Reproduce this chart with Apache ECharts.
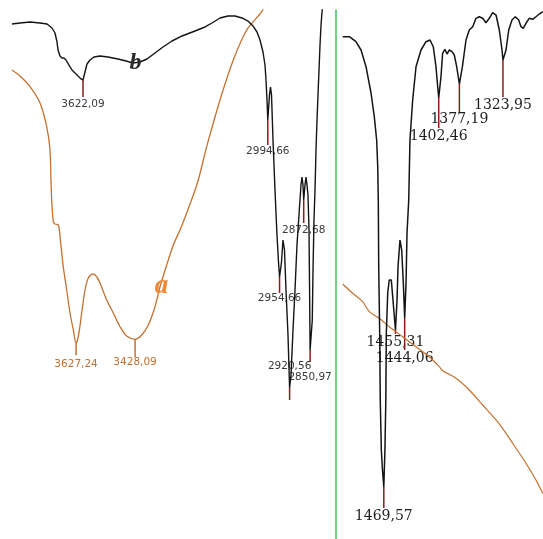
<!DOCTYPE html>
<html>
<head>
<meta charset="utf-8">
<script src="https://cdn.jsdelivr.net/npm/echarts@6/dist/echarts.min.js"></script>
<style>
  html, body { margin: 0; padding: 0; background: #fff; }
  #chart { width: 543px; height: 539px; }
</style>
</head>
<body>
<div id="chart"></div>
<script>
// ---- Spectrum b (black), high-wavenumber region, cm-1 / transmittance ----
const bWave = [3863.3,3836.1,3802.1,3768.2,3744.4,3727.4,3717.2,3710.4,3707.0,3700.3,
  3693.5,3686.7,3679.9,3669.7,3659.5,3649.3,3639.1,3628.9,3622.09,3615.4,
  3608.6,3598.4,3584.8,3564.4,3537.3,3503.3,3476.1,3452.4,3428.6,3404.8,
  3377.7,3350.5,3319.9,3285.9,3241.8,3207.9,3184.1,3157.0,3129.8,3106.0,
  3082.2,3061.8,3044.9,3031.3,3021.1,3010.9,3004.1,3000.7,2997.3,2994.66,
  2988.8,2985.4,2982.0,2976.9,2970.2,2963.4,2958.3,2954.66,2948.1,2943.0,
  2937.9,2932.8,2926.0,2920.56,2915.8,2909.0,2902.2,2895.5,2888.7,2881.9,
  2878.5,2875.1,2872.68,2868.3,2864.9,2861.5,2858.1,2854.7,2852.7,2850.97,
  2843.5,2841.1,2837.7,2834.3,2830.9,2827.5,2824.1,2820.7,2817.3,2813.9,
  2810.5,2807.0];
const bT = [97.35,97.54,97.73,97.54,97.35,96.60,95.65,93.95,92.44,91.30,
  90.93,90.93,90.55,89.60,88.66,88.09,87.52,86.96,86.77,88.28,
  89.79,90.55,91.12,91.30,91.12,90.74,90.36,89.98,90.17,90.74,
  91.87,93.01,94.14,95.09,96.03,96.79,97.54,98.49,98.87,98.87,
  98.49,97.92,96.98,95.84,94.33,92.06,89.60,86.77,82.99,79.21,
  83.93,85.44,83.93,75.43,65.97,57.47,52.36,49.53,52.36,56.52,
  54.63,47.07,38.56,28.54,31.00,39.51,47.07,55.58,61.25,66.92,
  68.43,66.92,64.08,66.92,68.43,66.92,65.03,58.41,47.07,35.73,
  41.40,50.85,60.30,65.97,73.53,79.21,83.93,88.66,93.38,97.16,
  99.62,101.5];

// ---- Spectrum a (orange), high-wavenumber region ----
const aWave = [3843.5,3816.5,3782.75,3749,3726.4,3715.25,3711.9,3709.5,3704.1,3698.4,
  3687.2,3681.5,3670.4,3658.9,3647.75,3636.6,3627.24,3619.7,3608.3,3597.1,
  3586.0,3571.1,3557.6,3546.5,3523.9,3501.6,3479,3456.4,3428.09,3405.8,
  3383.5,3360.9,3344,3321.4,3299.1,3276.5,3253.9,3231.6,3214.7,3186.4,
  3141.5,3096.6,3051.4,3000.8,2989.6];
const aT = [88.66,87.52,85.50,82.42,77.94,73.53,67.86,64.08,59.98,59.55,
  59.36,57.15,51.47,47.07,42.72,39.51,37.0,38.24,42.72,47.07,
  49.34,50.09,49.58,48.39,45.18,42.72,40.13,38.37,37.75,38.56,
  40.45,43.91,47.69,51.80,55.58,58.41,61.63,65.03,67.86,74.16,
  82.99,90.55,96.22,99.68,101.3];

// ---- Fingerprint region (1528-1275 cm-1) ----
const rbWave = [1519.8,1511.7,1503.6,1497.4,1491.3,1485.2,1481.2,1478.3,1477.0,1476.3,
  1475.8,1474.6,1473.9,1472.6,1471.2,1469.57,1468.2,1467.1,1466.5,1464.8,
  1462.9,1460.4,1458.7,1455.31,1453.4,1452.2,1449.8,1447.7,1445.7,1444.06,
  1442.4,1441.2,1439.1,1437.6,1434.3,1430.2,1424.1,1418.0,1413.1,1409.1,
  1405.8,1403.9,1402.46,1399.7,1397.7,1394.9,1392.3,1389.5,1386.2,1383.4,
  1380.5,1377.19,1373.5,1369.1,1365.1,1360.9,1356.9,1352.9,1348.7,1344.7,
  1340.6,1336.5,1332.4,1328.4,1325.1,1323.95,1320.2,1316.9,1312.9,1308.9,
  1304.7,1301.9,1299.1,1295.8,1291.8,1287.6,1283.6,1279.5,1275.4];
const rbT = [94.95,94.95,94.01,92.44,89.28,84.31,79.83,75.43,70.38,64.08,
  51.47,38.94,26.28,16.82,13.04,9.83,16.82,26.28,38.94,46.50,
  48.96,48.96,45.80,39.51,45.18,51.47,56.52,54.63,48.39,41.78,
  48.39,57.84,64.08,75.43,82.99,89.28,92.44,94.01,94.33,93.06,
  89.28,85.82,83.36,87.39,91.81,92.57,91.68,92.44,92.12,91.49,
  89.28,86.01,89.28,94.33,96.22,96.84,98.43,98.73,98.43,97.60,
  98.43,99.49,99.05,96.22,92.44,90.55,92.44,96.22,98.11,98.73,
  98.11,96.84,96.54,97.49,98.43,98.24,98.73,99.24,99.68];

const raWave = [1519.8,1507.6,1495.4,1487.3,1475.1,1462.9,1446.5,1430.2,1414.0,1401.7,
  1397.6,1381.3,1365.1,1348.7,1332.4,1320.2,1308.0,1295.8,1283.6,1275.4];
const raT = [48.20,46.45,44.86,42.97,41.72,40.13,38.24,36.35,34.46,32.57,
  31.81,30.38,28.17,25.33,22.50,19.98,17.15,14.31,11.15,8.64];

// ---- Labelled band positions ----
const peaksB = [3622.09, 2994.66, 2954.66, 2920.56, 2872.68, 2850.97];
const peaksA = [3627.24, 3428.09];
const peaksR = [1469.57, 1455.31, 1444.06, 1402.46, 1377.19, 1323.95];

// tick length and label offset (px) below each band minimum
const layoutB = [
  { len: 17, dy: 24 }, { len: 25, dy: 31 }, { len: 16, dy: 21 },
  { len: 12, dy: -22 }, { len: 23, dy: 30 }, { len: 12, dy: 27 }
];
const layoutA = [ { len: 12, dy: 21 }, { len: 18, dy: 23 } ];
const layoutR = [
  { len: 21, dy: 29 }, { len: 4, dy: 12 }, { len: 32, dy: 40 },
  { len: 30, dy: 38 }, { len: 29, dy: 35 }, { len: 37, dy: 45 }
];

const BLACK = '#141414';
const ORANGE = '#c4702e';
const TICK_RED = '#8b1c1c';

const pairs = (w, t) => w.map((v, i) => [v, t[i]]);
const fmt = v => v.toFixed(2).replace('.', ',');

function peakMarks(peaks, curveW, curveT, layout, axes, tickColor, font, textColor) {
  return {
    type: 'custom',
    xAxisIndex: axes[0],
    yAxisIndex: axes[1],
    clip: false,
    silent: true,
    z: 3,
    data: peaks.map(w => [w, curveT[curveW.indexOf(w)]]),
    renderItem(params, api) {
      const p = api.coord([api.value(0), api.value(1)]);
      const L = layout[params.dataIndex];
      return {
        type: 'group',
        children: [
          { type: 'line',
            shape: { x1: p[0], y1: p[1], x2: p[0], y2: p[1] + L.len },
            style: { stroke: tickColor, lineWidth: 1.5 } },
          { type: 'text', x: p[0], y: p[1] + L.dy,
            style: { text: fmt(api.value(0)), fill: textColor, font: font,
                     align: 'center', verticalAlign: 'middle' } }
        ]
      };
    }
  };
}

const hiddenX = (grid, min, max) => ({
  type: 'value', gridIndex: grid, min, max, inverse: true, show: false
});

const chart = echarts.init(document.getElementById('chart'));
chart.setOption({
  animation: false,
  backgroundColor: '#ffffff',
  grid: [
    { left: 0, top: 10, width: 336, bottom: 0 },
    { left: 336, top: 10, width: 207, bottom: 0 }
  ],
  xAxis: [
    hiddenX(0, 2763, 3904),   // spectrum b
    hiddenX(0, 2750, 3884),   // spectrum a
    hiddenX(1, 1275, 1528)    // fingerprint region
  ],
  yAxis: [
    { type: 'value', gridIndex: 0, min: 0, max: 100, show: false },
    { type: 'value', gridIndex: 1, min: 0, max: 100,
      axisLine: { show: true, lineStyle: { color: '#3dc45b', width: 1.5 } },
      axisTick: { show: false }, axisLabel: { show: false }, splitLine: { show: false } }
  ],
  series: [
    { type: 'line', xAxisIndex: 1, yAxisIndex: 0, data: pairs(aWave, aT),
      showSymbol: false, smooth: 0.3, lineStyle: { color: ORANGE, width: 1.3 } },
    { type: 'line', xAxisIndex: 0, yAxisIndex: 0, data: pairs(bWave, bT),
      showSymbol: false, lineStyle: { color: BLACK, width: 1.4 } },
    { type: 'line', xAxisIndex: 2, yAxisIndex: 1, data: pairs(raWave, raT),
      showSymbol: false, smooth: 0.3, lineStyle: { color: ORANGE, width: 1.2 } },
    { type: 'line', xAxisIndex: 2, yAxisIndex: 1, data: pairs(rbWave, rbT),
      showSymbol: false, lineStyle: { color: BLACK, width: 1.5 } },
    peakMarks(peaksB, bWave, bT, layoutB, [0, 0], TICK_RED,
      '10.5px "DejaVu Sans"', '#3a3a3a'),
    peakMarks(peaksA, aWave, aT, layoutA, [1, 0], ORANGE,
      '10.5px "DejaVu Sans"', '#c4702e'),
    peakMarks(peaksR, rbWave, rbT, layoutR, [2, 1], TICK_RED,
      '14px "DejaVu Serif"', '#1e1e1e')
  ],
  graphic: [
    { type: 'text', x: 135.5, y: 63, z: 10,
      style: { text: 'b', font: 'italic bold 24px "Liberation Serif"', fill: '#2a2a2a',
               align: 'center', verticalAlign: 'middle' } },
    { type: 'text', x: 161.5, y: 286, z: 10,
      style: { text: 'a', font: 'italic bold 27px "Liberation Serif"', fill: '#f08a34',
               align: 'center', verticalAlign: 'middle' } }
  ]
});
</script>
</body>
</html>
